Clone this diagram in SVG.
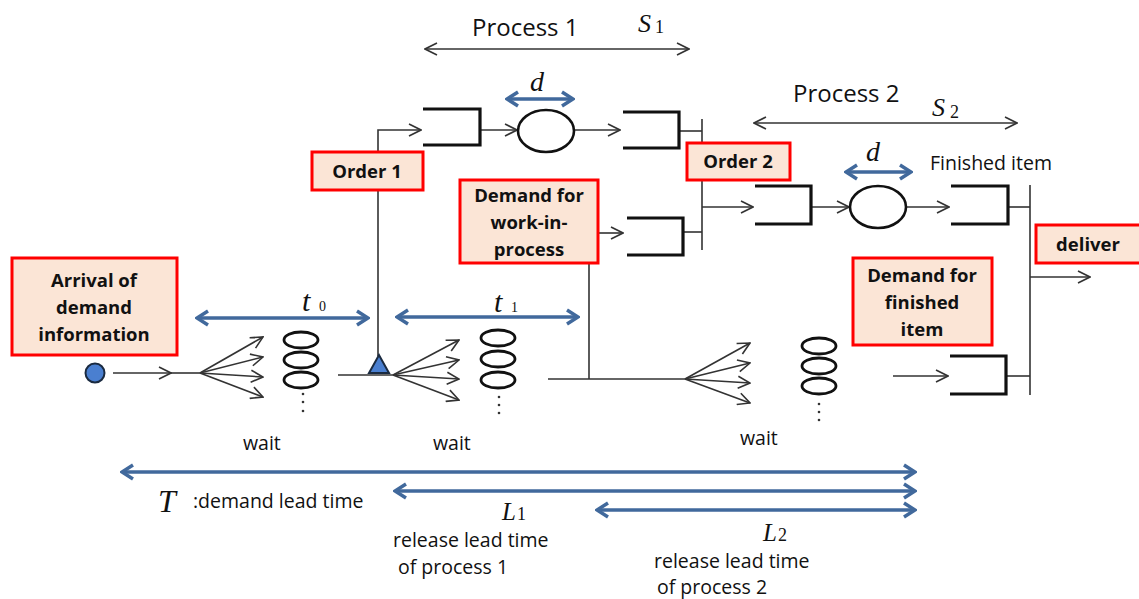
<svg xmlns="http://www.w3.org/2000/svg" width="1139" height="599" viewBox="0 0 1139 599">
<defs>
<marker id="ah" markerUnits="userSpaceOnUse" markerWidth="14" markerHeight="14" viewBox="0 0 14 14" refX="13" refY="7" orient="auto-start-reverse">
<path d="M1,1 L13,7 L1,13" fill="none" stroke="#333" stroke-width="1.6"/>
</marker>
<marker id="bh" markerUnits="userSpaceOnUse" markerWidth="16" markerHeight="18" viewBox="0 0 16 18" refX="14" refY="9" orient="auto-start-reverse">
<path d="M3,2 L14,9 L3,16" fill="none" stroke="#41699c" stroke-width="3.5" stroke-linejoin="miter"/>
</marker>
<style>
.ln{fill:none;stroke:#333;stroke-width:1.6}
.ar{fill:none;stroke:#333;stroke-width:1.6;marker-end:url(#ah)}
.da{fill:none;stroke:#333;stroke-width:1.6;marker-start:url(#ah);marker-end:url(#ah)}
.bl{fill:none;stroke:#41699c;stroke-width:3.5;marker-start:url(#bh);marker-end:url(#bh)}
.buf{fill:none;stroke:#111;stroke-width:3.2}
.el{fill:none;stroke:#111;stroke-width:2.6}
.q{fill:none;stroke:#111;stroke-width:2.8}
.box{fill:#fbe5d6;stroke:#f00;stroke-width:3}
.bt{font-family:"Open Sans","Liberation Sans",sans-serif;font-weight:bold;font-size:18.5px;fill:#111;text-anchor:middle}
.t{font-family:"Open Sans","Liberation Sans",sans-serif;font-size:19.5px;fill:#111}
.big{font-family:"Open Sans","Liberation Sans",sans-serif;font-size:24px;fill:#111}
.m{font-family:"Liberation Serif","Times New Roman",serif;font-style:italic;fill:#111}
.sub{font-family:"Liberation Serif","Times New Roman",serif;fill:#111}
.dot{fill:#333}
</style>
</defs>

<g id="connectors">
<line class="da" x1="425" y1="49" x2="689" y2="49"/>
<line class="da" x1="754" y1="123" x2="1017" y2="123"/>
<path class="ar" d="M378,152 V130 H421"/>
<line class="ar" x1="480" y1="130" x2="517" y2="130"/>
<line class="ar" x1="575" y1="130" x2="620" y2="130"/>
<line class="ln" x1="679" y1="131" x2="702" y2="131"/>
<line class="ln" x1="702" y1="119" x2="702" y2="250"/>
<line class="ar" x1="598" y1="233" x2="623" y2="233"/>
<line class="ln" x1="683" y1="232" x2="702" y2="232"/>
<line class="ar" x1="702" y1="207" x2="753" y2="207"/>
<line class="ar" x1="811" y1="207" x2="849" y2="207"/>
<line class="ar" x1="907" y1="207" x2="949" y2="207"/>
<line class="ln" x1="1008" y1="207" x2="1030" y2="207"/>
<line class="ln" x1="1030" y1="185" x2="1030" y2="395"/>
<line class="ar" x1="1030" y1="277" x2="1090" y2="277"/>
<line class="ar" x1="893" y1="376" x2="948" y2="376"/>
<line class="ln" x1="1006" y1="376" x2="1030" y2="376"/>
<line class="ar" x1="113" y1="373" x2="171" y2="373"/>
<line class="ln" x1="171" y1="373" x2="200" y2="373"/>
<line class="ar" x1="200" y1="373" x2="263" y2="337"/>
<line class="ar" x1="200" y1="373" x2="263" y2="357"/>
<line class="ar" x1="200" y1="373" x2="263" y2="377"/>
<line class="ar" x1="200" y1="373" x2="263" y2="397"/>
<line class="ln" x1="338" y1="375" x2="393" y2="375"/>
<line class="ln" x1="378" y1="190" x2="378" y2="356"/>
<line class="ar" x1="393" y1="375" x2="459" y2="340"/>
<line class="ar" x1="393" y1="375" x2="459" y2="360"/>
<line class="ar" x1="393" y1="375" x2="459" y2="379"/>
<line class="ar" x1="393" y1="375" x2="459" y2="400"/>
<line class="ln" x1="548" y1="379" x2="685" y2="379"/>
<line class="ln" x1="589" y1="263" x2="589" y2="379"/>
<line class="ar" x1="685" y1="379" x2="750" y2="343"/>
<line class="ar" x1="685" y1="379" x2="750" y2="363"/>
<line class="ar" x1="685" y1="379" x2="750" y2="383"/>
<line class="ar" x1="685" y1="379" x2="750" y2="403"/>
<line class="bl" x1="197" y1="318" x2="368" y2="318"/>
<line class="bl" x1="397" y1="317" x2="578" y2="317"/>
<line class="bl" x1="507" y1="99" x2="573" y2="99"/>
<line class="bl" x1="846" y1="172" x2="911" y2="172"/>
<line class="bl" x1="122" y1="472" x2="915" y2="472"/>
<line class="bl" x1="395" y1="491" x2="915" y2="491"/>
<line class="bl" x1="597" y1="510" x2="915" y2="510"/>
</g>

<g id="buffers">
<path class="buf" d="M423,109 H480 V145 H423"/>
<path class="buf" d="M623,112 H679 V148 H623"/>
<path class="buf" d="M627,218 H683 V255 H627"/>
<path class="buf" d="M755,186 H811 V224 H755"/>
<path class="buf" d="M951,186 H1008 V224 H951"/>
<path class="buf" d="M950,356 H1006 V394 H950"/>
</g>

<g id="machines">
<ellipse class="el" cx="546" cy="131" rx="28" ry="21"/>
<ellipse class="el" cx="878" cy="207" rx="28" ry="21"/>
</g>

<g id="queues">
<ellipse class="q" cx="301" cy="340" rx="17" ry="8"/>
<ellipse class="q" cx="301" cy="360" rx="17" ry="8"/>
<ellipse class="q" cx="301" cy="380" rx="17" ry="8"/>
<circle class="dot" cx="303" cy="394" r="1.3"/><circle class="dot" cx="303" cy="402" r="1.3"/><circle class="dot" cx="303" cy="411" r="1.3"/>
<ellipse class="q" cx="498" cy="338" rx="17" ry="8"/>
<ellipse class="q" cx="498" cy="359" rx="17" ry="8"/>
<ellipse class="q" cx="498" cy="380" rx="17" ry="8"/>
<circle class="dot" cx="499" cy="397" r="1.3"/><circle class="dot" cx="499" cy="405" r="1.3"/><circle class="dot" cx="499" cy="413" r="1.3"/>
<ellipse class="q" cx="819" cy="346" rx="17" ry="8"/>
<ellipse class="q" cx="819" cy="366" rx="17" ry="8"/>
<ellipse class="q" cx="819" cy="386" rx="17" ry="8"/>
<circle class="dot" cx="819" cy="404" r="1.3"/><circle class="dot" cx="819" cy="412" r="1.3"/><circle class="dot" cx="819" cy="420" r="1.3"/>
</g>

<g id="source">
<circle cx="95" cy="373" r="9.5" fill="#4a7fd0" stroke="#1a2a40" stroke-width="2"/>
</g>
<g id="trigger">
<polygon points="369,373 389,373 379,355" fill="#4a7fd0" stroke="#1a2a40" stroke-width="2"/>
</g>

<g id="order1">
<rect class="box" x="312" y="152" width="111" height="38"/>
<text class="bt" x="367" y="178">Order 1</text>
</g>
<g id="order2">
<rect class="box" x="687" y="143" width="103" height="37"/>
<text class="bt" x="738" y="168">Order 2</text>
</g>
<g id="arrival">
<rect class="box" x="12" y="258" width="165" height="97"/>
<text class="bt" x="94" y="287">Arrival of</text>
<text class="bt" x="94" y="314">demand</text>
<text class="bt" x="94" y="341">information</text>
</g>
<g id="demand-wip">
<rect class="box" x="460" y="180" width="138" height="83"/>
<text class="bt" x="529" y="202">Demand for</text>
<text class="bt" x="529" y="229">work-in-</text>
<text class="bt" x="529" y="256">process</text>
</g>
<g id="demand-finished">
<rect class="box" x="853" y="258" width="139" height="87"/>
<text class="bt" x="922" y="282">Demand for</text>
<text class="bt" x="922" y="309">finished</text>
<text class="bt" x="922" y="336">item</text>
</g>
<g id="deliver">
<rect class="box" x="1036" y="225" width="110" height="38"/>
<text class="bt" x="1088" y="251">deliver</text>
</g>

<g id="labels">
<text class="big" x="472" y="36">Process 1</text>
<text class="m" x="638" y="32" font-size="26">S</text><text class="sub" x="655" y="33" font-size="18">1</text>
<text class="big" x="793" y="102">Process 2</text>
<text class="m" x="932" y="116" font-size="26">S</text><text class="sub" x="950" y="118" font-size="18">2</text>
<text class="m" x="530" y="91" font-size="28">d</text>
<text class="m" x="866" y="161" font-size="28">d</text>
<text class="t" x="930" y="170">Finished item</text>
<text class="m" x="302" y="311" font-size="30">t</text><text class="sub" x="319" y="311" font-size="14">0</text>
<text class="m" x="494" y="312" font-size="30">t</text><text class="sub" x="511" y="312" font-size="14">1</text>
<text class="t" x="243" y="450">wait</text>
<text class="t" x="433" y="450">wait</text>
<text class="t" x="740" y="445">wait</text>
<text class="m" x="158" y="512" font-size="32">T</text>
<text class="t" x="193" y="508" font-size="18.5">:demand lead time</text>
<text class="m" x="502" y="520" font-size="25">L</text><text class="sub" x="517" y="520" font-size="18">1</text>
<text class="t" x="393" y="547" font-size="18.5">release lead time</text>
<text class="t" x="398" y="574" font-size="18.5">of process 1</text>
<text class="m" x="763" y="541" font-size="25">L</text><text class="sub" x="778" y="541" font-size="18">2</text>
<text class="t" x="654" y="568" font-size="17.5">release lead time</text>
<text class="t" x="657" y="594" font-size="17.5">of process 2</text>
</g>
</svg>
